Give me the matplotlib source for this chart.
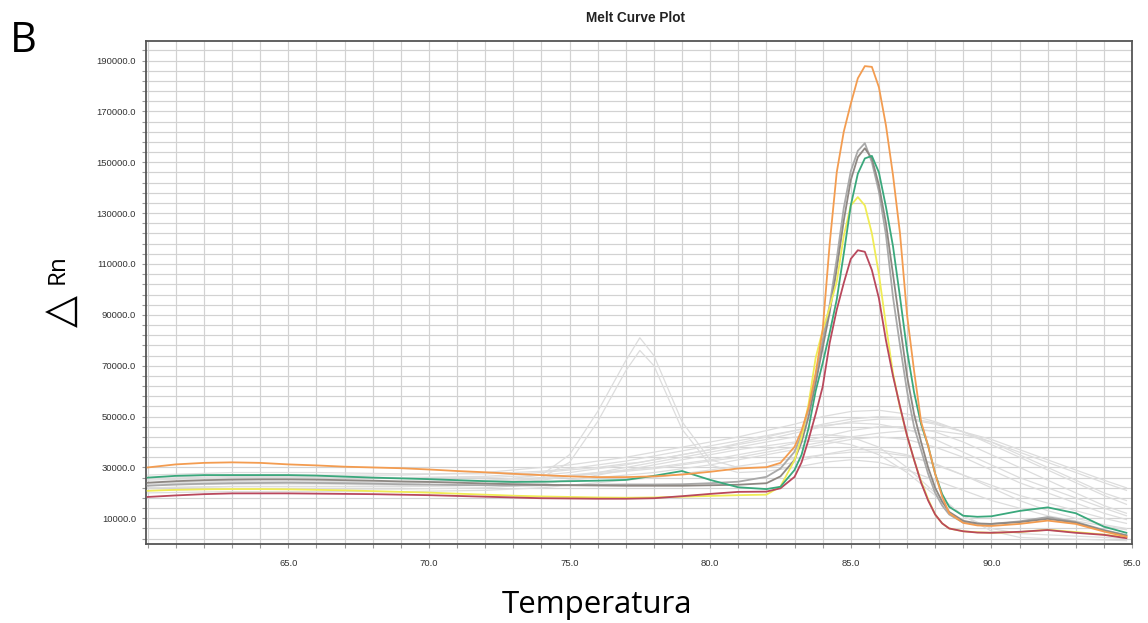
import numpy as np
import matplotlib
matplotlib.use("Agg")
import matplotlib.pyplot as plt
import matplotlib.ticker as mticker

# Temperature grid for the highlighted samples (finer around the melt peak)
temps = [60, 61, 62, 63, 64, 65, 66, 67, 68, 69, 70, 71, 72, 73, 74, 75, 76, 77, 78, 79, 80, 81, 82,
         82.5, 83, 83.25, 83.5, 83.75, 84, 84.25, 84.5, 84.75, 85, 85.25, 85.5, 85.75, 86, 86.25,
         86.5, 86.75, 87, 87.25, 87.5, 87.75, 88, 88.25, 88.5, 89, 89.5, 90, 91, 92, 93, 94, 94.8]

orange = [30000, 31200, 31800, 32000, 31800, 31200, 30800, 30300, 30000, 29700, 29200, 28600, 28100,
          27500, 27000, 26500, 26200, 26200, 26500, 27200, 28300, 29600, 30100,
          31800, 38100, 44500, 53500, 67000, 84000, 118000, 146000, 162000, 173000, 183000, 187800,
          187500, 179500, 164500, 145000, 122000, 90000, 68000, 48000, 38500, 27500, 18500, 12000,
          8200, 7200, 7000, 7800, 9100, 7800, 4800, 2800]

green = [26000, 26700, 27000, 27000, 27000, 27000, 26800, 26400, 26000, 25700, 25400, 25000, 24600,
         24300, 24400, 24600, 24800, 25100, 26700, 28600, 25100, 22200, 21500,
         22400, 29000, 35000, 45500, 60000, 71000, 83000, 96000, 114000, 133000, 145500, 151500,
         152500, 146000, 132500, 117000, 97000, 76000, 59500, 47000, 38500, 27500, 19500, 14500,
         11000, 10600, 10800, 12900, 14300, 12000, 6700, 4300]

gray = [22800, 23300, 23600, 23800, 23900, 24000, 23900, 23800, 23600, 23400, 23300, 23100, 23000,
        22900, 23000, 23100, 23200, 23300, 23300, 23400, 23800, 24400, 26300,
        29600, 36200, 43000, 53000, 66000, 80000, 94000, 112000, 132000, 146500, 154500, 157500,
        150000, 138500, 121500, 97000, 78000, 60000, 46000, 36800, 27500, 20000, 15000, 11500,
        8300, 7800, 7800, 8800, 10500, 8600, 5400, 3400]

darkgray = [24000, 24600, 25000, 25200, 25300, 25300, 25200, 25000, 24800, 24500, 24300, 24000, 23700,
            23400, 23200, 23000, 22900, 22800, 22800, 22800, 23000, 23200, 23800,
            26500, 33000, 40000, 50000, 63000, 77000, 91000, 108000, 127000, 143000, 152000, 155500,
            151500, 141000, 126000, 106000, 86000, 66000, 51000, 40000, 30000, 22000, 16500, 12500,
            9000, 8000, 7800, 8500, 9800, 8300, 5200, 3200]

yellow = [20800, 21200, 21400, 21500, 21500, 21400, 21200, 21000, 20700, 20400, 20100, 19700, 19300,
          18900, 18600, 18400, 18200, 18100, 18200, 18500, 18800, 19100, 19300,
          22500, 32900, 42000, 55000, 73000, 84000, 93000, 103000, 121000, 133000, 136300, 133000,
          122000, 106000, 86000, 67000, 53500, 42500, 33000, 24500, 17500, 11500, 8000, 6000,
          4900, 4500, 4300, 4600, 5500, 4600, 3600, 2600]

red = [18400, 19000, 19500, 19800, 19800, 19800, 19700, 19600, 19500, 19300, 19100, 18800, 18500,
       18200, 17900, 17800, 17700, 17700, 17900, 18700, 19600, 20400, 20500,
       21800, 26300, 32000, 41000, 51000, 61700, 79000, 92000, 102500, 112000, 115400, 114800,
       107600, 96500, 80000, 66000, 54000, 42500, 33000, 24000, 17000, 11500, 8000, 6000,
       4900, 4400, 4300, 4700, 5400, 4300, 3500, 2200]

# Background (unselected) wells, coarser temperature grid
bg_temps = [60, 63, 66, 69, 72, 74, 75, 76, 77, 77.5, 78, 79, 80, 81, 82, 83, 84, 85, 86, 87, 88,
            89, 90, 91, 92, 93, 94, 94.8]

bg1 = [24000, 24500, 24500, 24000, 24500, 27000, 35000, 52000, 72000, 81000, 74000, 48000, 33000, 30000,
       30000, 32000, 35000, 37000, 37000, 35000, 31000, 27000, 23000, 19000, 16000, 13000, 10000, 8000]
bg2 = [22000, 22500, 22500, 22500, 23000, 26000, 32000, 48000, 68000, 76000, 70000, 45000, 31000, 28000,
       28500, 30000, 32000, 33000, 32000, 29000, 25000, 21000, 17000, 14000, 11000, 9000, 7000, 5500]
bg3 = [26000, 27000, 27000, 27000, 28000, 30000, 31000, 32500, 34000, 35000, 36000, 38000, 40000, 42000,
       44500, 47000, 50000, 52000, 52500, 51000, 48000, 44000, 40000, 35000, 30000, 25000, 20000, 17000]
bg4 = [25000, 26000, 26000, 26000, 26500, 28000, 29000, 30000, 31500, 32000, 33000, 35000, 37000, 39000,
       41000, 43500, 46000, 48000, 49000, 49000, 47000, 44000, 41000, 37000, 33000, 29000, 25000, 22000]
bg5 = [23000, 23500, 23500, 23000, 23500, 25000, 26500, 28000, 30000, 31000, 32000, 34000, 36000, 38000,
       40000, 42000, 43000, 42000, 38000, 30000, 20000, 11000, 5000, 2500, 2000, 1800, 1500, 1200]
bg6 = [21000, 21500, 21500, 21500, 22000, 23500, 25000, 27000, 29000, 30000, 31000, 33000, 35000, 37000,
       38500, 40000, 40500, 39000, 35000, 28000, 19000, 11000, 6000, 4000, 3500, 3000, 2500, 2000]
bg7 = [24000, 24500, 24500, 24500, 25000, 26000, 27000, 28000, 29000, 29500, 30000, 31500, 33000, 35000,
       37000, 39500, 42000, 44500, 46000, 46000, 44000, 40000, 35000, 30000, 25000, 20000, 15000, 12000]
bg8 = [22000, 22500, 22500, 22500, 23000, 24000, 25000, 26000, 27000, 27500, 28000, 29500, 31000, 33000,
       35000, 37000, 39000, 41000, 42000, 41000, 38000, 34000, 29000, 24000, 20000, 16000, 12000, 9500]
bg9 = [27000, 28000, 28000, 27500, 27500, 28500, 29500, 31000, 32500, 33500, 34500, 36500, 38500, 40500,
       42500, 44500, 46500, 47500, 47000, 45000, 41000, 36000, 31000, 26000, 22000, 18000, 14000, 11000]
bg10 = [20000, 20500, 20500, 20500, 21000, 22000, 23000, 24000, 25000, 25500, 26000, 27500, 29000, 30500,
        32000, 33500, 35000, 36000, 36000, 34500, 31500, 27000, 22000, 17000, 13000, 10000, 7500, 6000]
bg11 = [23500, 24000, 24000, 24000, 24500, 25500, 26500, 27500, 28500, 29000, 29500, 31000, 32500, 34000,
        36000, 38000, 40000, 42000, 43500, 44500, 44500, 43000, 40000, 36000, 32000, 28000, 24000, 21000]
bg12 = [25500, 26500, 26500, 26000, 26000, 27000, 28000, 29500, 31000, 32000, 33000, 35000, 37000, 39500,
        42000, 44500, 47000, 49000, 50000, 49500, 47500, 44000, 39000, 34000, 29000, 24000, 19000, 15500]

background = [bg1, bg2, bg3, bg4, bg5, bg6, bg7, bg8, bg9, bg10, bg11, bg12]

highlighted = [
    (gray, "#a9a9a9"),
    (darkgray, "#8e8883"),
    (yellow, "#f0ec55"),
    (red, "#b9485c"),
    (green, "#3aa87c"),
    (orange, "#f39c50"),
]

xticks = [65, 70, 75, 80, 85, 90, 95]
yticks = [10000, 30000, 50000, 70000, 90000, 110000, 130000, 150000, 170000, 190000]


fig = plt.figure(figsize=(11.48, 6.23), dpi=100)
ax = fig.add_axes([0.1269, 0.1268, 0.8592, 0.8079])

for bg in background:
    ax.plot(bg_temps, bg, color="#dddddd", linewidth=0.9, zorder=2)

for values, color in highlighted:
    ax.plot(temps, values, color=color, linewidth=1.3, zorder=3)

ax.set_xlim(59.93, 95.0)
ax.set_ylim(-100, 197800)

ax.xaxis.set_major_locator(mticker.FixedLocator(xticks))
ax.xaxis.set_minor_locator(mticker.MultipleLocator(1))
ax.xaxis.set_major_formatter(mticker.FormatStrFormatter('%.1f'))
ax.yaxis.set_major_locator(mticker.FixedLocator(yticks))
ax.yaxis.set_minor_locator(mticker.FixedLocator(np.arange(2000, 197000, 4000)))
ax.yaxis.set_major_formatter(mticker.FormatStrFormatter('%.1f'))

# every degree and every 4000 units gets a grid line in the original software
ax.grid(which='both', color='#d2d2d2', linewidth=0.85, zorder=0)
ax.set_axisbelow(True)

for side in ax.spines.values():
    side.set_color('#555555')
    side.set_linewidth(1.3)

ax.tick_params(which='both', direction='out', color='#9a9a9a', length=3, width=0.8)
ax.tick_params(axis='y', which='major', labelsize=6.8, labelcolor='#333333', pad=4)
ax.tick_params(axis='x', which='major', labelsize=6.8, labelcolor='#333333', pad=8)
for lbl in ax.get_xticklabels() + ax.get_yticklabels():
    lbl.set_fontfamily('Liberation Sans')

fig.text(636 / 1148, 1 - 18 / 623, 'Melt Curve Plot', fontsize=9.8, fontweight='bold',
         family='Liberation Sans', ha='center', va='center', color='#222222')

fig.text(10 / 1148, 1 - 52 / 623, 'B', fontsize=30, family='Open Sans', ha='left', va='baseline')

fig.text(596.5 / 1148, 1 - 613 / 623, 'Temperatura', fontsize=22.5, family='Open Sans',
         ha='center', va='baseline')

fig.text(62 / 1148, 1 - 311 / 623, '\u25b3', fontsize=30, family='DejaVu Sans', rotation=90,
         ha='center', va='center')
fig.text(58 / 1148, 1 - 269 / 623, 'Rn', fontsize=17.5, family='Open Sans', rotation=90,
         ha='center', va='center')

fig.savefig('out.png', dpi=100)
